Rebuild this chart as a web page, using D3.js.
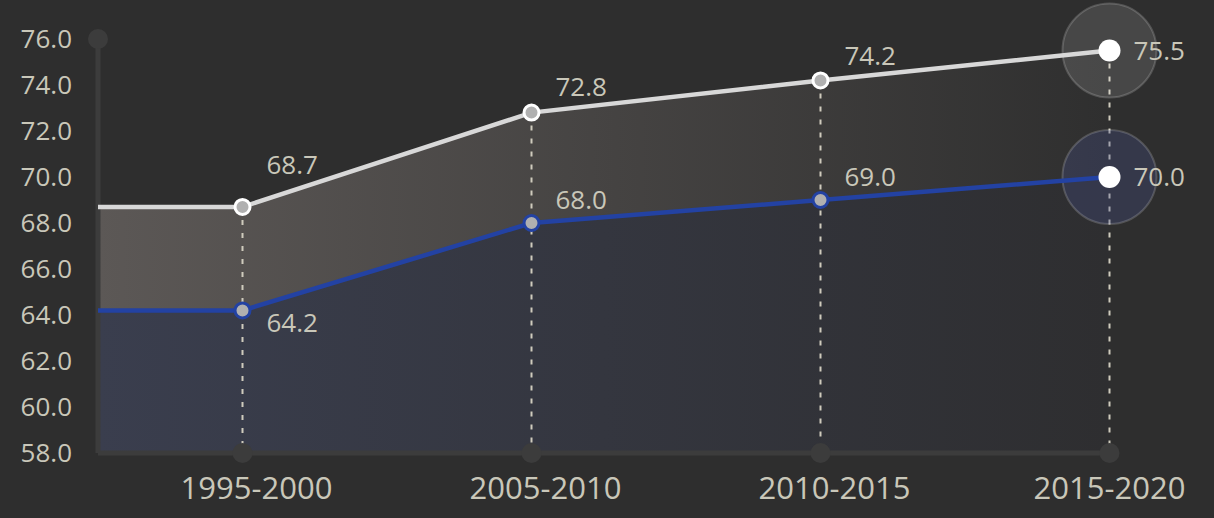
<!DOCTYPE html>
<html><head><meta charset="utf-8">
<script src="https://cdn.jsdelivr.net/npm/d3@7"></script>
<style>
html,body{margin:0;padding:0;background:#2e2e2e;}
svg{display:block;}
text{font-family:"Open Sans","Noto Sans",sans-serif;fill:#c9c7b9;}
</style></head>
<body><svg id="c" width="1214" height="518"></svg>
<script>
const categories = ["1995-2000","2005-2010","2010-2015","2015-2020"];
const seriesTop = [68.7, 72.8, 74.2, 75.5];
const seriesBottom = [64.2, 68.0, 69.0, 70.0];
const yTicks = [58,60,62,64,66,68,70,72,74,76];

const W = 1214, H = 518;
const padL = 98, padB = 453, padT = 39;
const svg = d3.select("#c");
svg.append("rect").attr("width",W).attr("height",H).attr("fill","#2e2e2e");

const x = d3.scaleBand().domain(categories).range([padL, padL + 4*289]).padding(0);
const xc = c => x(c) + x.bandwidth()/2;
const y = d3.scaleLinear().domain([58,76]).range([padB, padT]);
const li = categories.length-1;
const xEnd = xc(categories[li]);

const defs = svg.append("defs");
function grad(id, c0, c1){
  const g = defs.append("linearGradient").attr("id",id).attr("gradientUnits","userSpaceOnUse")
    .attr("x1",padL).attr("x2",xEnd).attr("y1",0).attr("y2",0);
  g.append("stop").attr("offset","0%").attr("stop-color",c0);
  g.append("stop").attr("offset","100%").attr("stop-color",c1);
}
grad("gTop","#5c5856","#2f2f2f");
grad("gBot","#3a3e4e","#2e2e30");

function pts(vals){
  const p = vals.map((v,i)=>[xc(categories[i]), v]);
  return [[padL, vals[0]], ...p];
}
const area = d3.area().x(d=>d[0]).y0(padB).y1(d=>y(d[1]));
const line = d3.line().x(d=>d[0]).y(d=>y(d[1]));

svg.append("path").attr("d",area(pts(seriesTop))).attr("fill","url(#gTop)");
svg.append("path").attr("d",area(pts(seriesBottom))).attr("fill","url(#gBot)");

// axes
const axisCol = "#3c3c3c";
svg.append("line").attr("x1",padL).attr("x2",padL).attr("y1",padT).attr("y2",padB)
  .attr("stroke",axisCol).attr("stroke-width",5);
svg.append("line").attr("x1",padL).attr("x2",xEnd).attr("y1",padB).attr("y2",padB)
  .attr("stroke",axisCol).attr("stroke-width",5);
svg.append("circle").attr("cx",padL).attr("cy",padT).attr("r",10).attr("fill",axisCol);

// y tick labels
svg.selectAll(".yl").data(yTicks).enter().append("text")
  .attr("x",72).attr("y",d=>y(d)).attr("dy","0.36em").attr("text-anchor","end")
  .attr("font-size",26).text(d=>d.toFixed(1));

// x labels
svg.selectAll(".xl").data(categories).enter().append("text")
  .attr("x",(d,i)=>i===li ? xc(d) : xc(d)+14).attr("y",499).attr("text-anchor","middle")
  .attr("font-size",31).text(d=>d);

// dashed verticals
categories.forEach((c,i)=>{
  svg.append("line").attr("x1",xc(c)).attr("x2",xc(c)).attr("y1",y(seriesTop[i])).attr("y2",padB)
    .attr("stroke","#cfcbbd").attr("stroke-width",2).attr("stroke-dasharray","5,8");
});
// bottom dots
svg.selectAll(".bd").data(categories).enter().append("circle")
  .attr("cx",d=>xc(d)).attr("cy",padB).attr("r",10).attr("fill",axisCol);

// halos on last points
svg.append("circle").attr("cx",xEnd).attr("cy",y(seriesTop[li])).attr("r",47)
  .attr("fill","rgba(255,255,255,0.12)").attr("stroke","rgba(255,255,255,0.18)").attr("stroke-width",2);
svg.append("circle").attr("cx",xEnd).attr("cy",y(seriesBottom[li])).attr("r",47)
  .attr("fill","rgba(70,80,140,0.3)").attr("stroke","rgba(255,255,255,0.18)").attr("stroke-width",2);

// lines
svg.append("path").attr("d",line(pts(seriesTop))).attr("fill","none").attr("stroke","#d8d8d8").attr("stroke-width",4.5);
svg.append("path").attr("d",line(pts(seriesBottom))).attr("fill","none").attr("stroke","#2342a3").attr("stroke-width",4.5);

// points
function points(vals, stroke){
  vals.forEach((v,i)=>{
    const cx = xc(categories[i]), cy = y(v);
    if(i===li){
      svg.append("circle").attr("cx",cx).attr("cy",cy).attr("r",11).attr("fill","#ffffff");
    } else {
      svg.append("circle").attr("cx",cx).attr("cy",cy).attr("r",7.5).attr("fill","#b0b0b0")
        .attr("stroke",stroke).attr("stroke-width",3);
    }
  });
}
points(seriesTop,"#ffffff");
points(seriesBottom,"#2342a3");

// value labels: placed right of point, just above the outgoing segment
function labels(vals, below){
  vals.forEach((v,i)=>{
    const cx = xc(categories[i]), cy = y(v);
    const tx = cx + 24;
    let ty;
    if(i===li){ ty = cy + 9; }
    else if(below && i===0 && false){ ty = cy + 22; }
    else {
      const nx = xc(categories[i+1]), ny = y(vals[i+1]);
      const rx = tx + 52;
      const ly = cy + (ny-cy)*(rx-cx)/(nx-cx);
      ty = ly - 8;
      if(below && i===0) ty = cy + 22;
    }
    svg.append("text").attr("x",tx).attr("y",ty).attr("font-size",26).text(v.toFixed(1));
  });
}
labels(seriesTop,false);
labels(seriesBottom,true);
</script></body></html>
